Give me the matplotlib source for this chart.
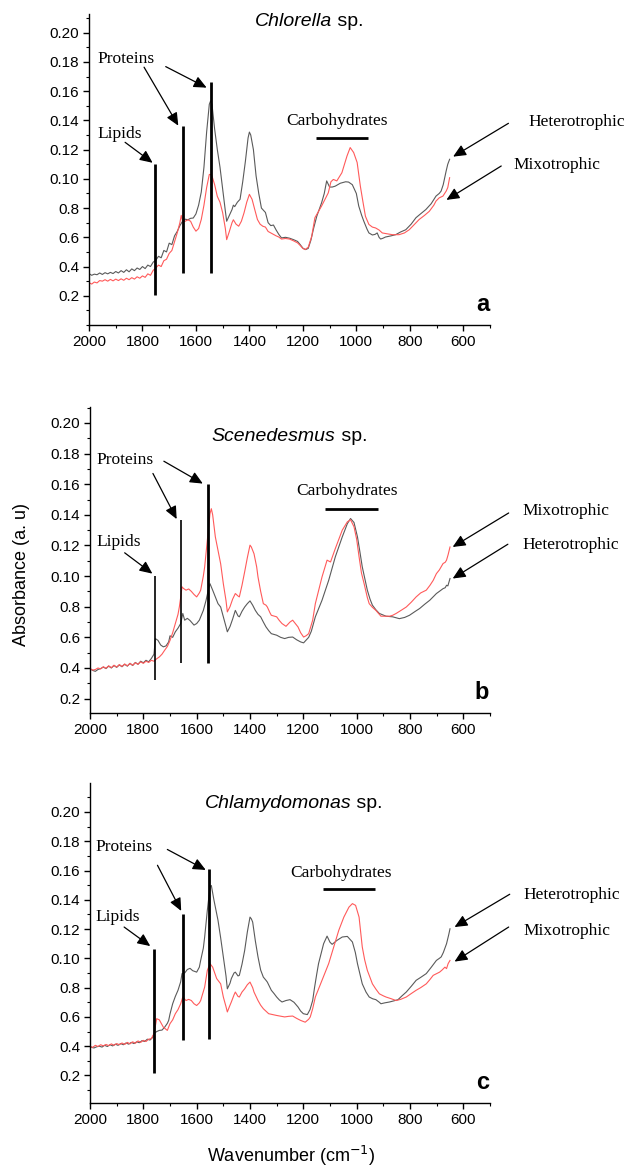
import matplotlib
matplotlib.use("Agg")
import matplotlib.pyplot as plt
from matplotlib.ticker import MultipleLocator, FixedLocator, FixedFormatter

plt.rcParams['font.family'] = ['Liberation Sans', 'DejaVu Sans']

# ---------------- data (y in label-step units: "0.2"->1 ... "0.20"->10) ----------------
ytick_pos = [1, 2, 3, 4, 5, 6, 7, 8, 9, 10]
ytick_labels = ["0.2", "0.4", "0.6", "0.8", "0.10", "0.12", "0.14", "0.16", "0.18", "0.20"]
xtick_pos = [2000, 1800, 1600, 1400, 1200, 1000, 800, 600]

# Panel a: Chlorella sp.
a_het_x = [2000,1990,1980,1970,1960,1950,1940,1930,1920,1910,1900,1890,1880,1870,1860,1850,1840,1830,1820,1810,
           1800,1790,1780,1770,1760,1750,1740,1730,1720,1710,1700,1690,1680,1670,1660,1650,1640,1630,1620,1610,
           1600,1590,1580,1570,1560,1550,1545,1540,1530,1520,1510,1500,1490,1485,1475,1465,1460,1455,1445,1435,
           1425,1415,1405,1400,1395,1385,1375,1365,1355,1345,1340,1330,1320,1310,1300,1290,1280,1265,1250,1235,
           1220,1210,1200,1190,1180,1170,1160,1148,1130,1120,1111,1100,1090,1079,1060,1040,1029,1015,1000,991,
           980,972,960,953,940,930,922,915,909,900,891,870,853,835,815,795,777,760,740,720,
           702,690,683,675,664,658,651]
a_het_y = [1.76,1.70,1.74,1.72,1.78,1.73,1.79,1.75,1.80,1.76,1.83,1.78,1.86,1.80,1.89,1.82,1.92,1.86,1.95,1.90,
           2.00,1.93,2.05,2.00,2.15,2.22,2.35,2.30,2.55,2.50,2.80,2.75,3.05,3.20,3.40,3.55,3.62,3.60,3.65,3.66,
           3.80,4.10,4.55,5.40,6.60,7.55,7.67,7.55,6.70,6.00,5.40,4.65,3.90,3.55,3.75,3.95,4.10,4.05,4.20,4.30,
           4.90,5.60,6.40,6.60,6.50,6.00,5.10,4.50,4.00,3.90,3.85,3.50,3.40,3.42,3.25,3.10,2.98,3.00,2.97,2.92,
           2.86,2.75,2.63,2.58,2.62,2.90,3.30,3.72,4.18,4.50,4.93,4.72,4.72,4.75,4.85,4.90,4.89,4.80,4.50,4.07,
           3.75,3.55,3.28,3.15,3.08,3.10,3.15,3.00,2.94,2.97,3.01,3.05,3.09,3.18,3.26,3.45,3.67,3.80,3.95,4.15,
           4.41,4.50,4.58,4.80,5.27,5.50,5.67]
a_mix_x = [2000,1990,1980,1970,1960,1950,1940,1930,1920,1910,1900,1890,1880,1870,1860,1850,1840,1830,1820,1810,
           1800,1790,1780,1770,1760,1750,1740,1730,1720,1710,1700,1690,1680,1670,1660,1655,1650,1640,1630,1620,
           1610,1600,1590,1580,1570,1560,1550,1545,1540,1530,1520,1510,1500,1490,1485,1475,1465,1460,1450,1440,
           1430,1420,1410,1400,1390,1380,1370,1360,1350,1340,1330,1320,1300,1290,1280,1265,1250,1235,1220,1210,
           1200,1192,1180,1167,1155,1130,1105,1095,1086,1073,1054,1035,1023,1010,997,985,975,966,953,940,
           928,915,903,885,865,840,820,802,785,765,745,727,710,702,690,676,664,658,651]
a_mix_y = [1.45,1.40,1.47,1.44,1.52,1.50,1.55,1.50,1.56,1.51,1.57,1.52,1.58,1.53,1.60,1.55,1.62,1.57,1.65,1.60,
           1.68,1.63,1.75,1.70,1.87,1.95,2.05,2.00,2.20,2.25,2.45,2.55,2.85,3.15,3.50,3.75,3.55,3.55,3.60,3.55,
           3.35,3.21,3.30,3.61,4.10,4.70,5.15,5.15,5.10,4.80,4.40,4.20,3.84,3.30,2.92,3.20,3.50,3.60,3.45,3.38,
           3.55,3.84,4.20,4.47,4.30,3.95,3.61,3.45,3.38,3.35,3.20,3.15,3.05,3.01,2.94,2.96,2.94,2.88,2.81,2.72,
           2.62,2.58,2.66,3.03,3.67,4.07,4.52,4.90,4.98,4.93,5.21,5.78,6.07,5.90,5.56,4.75,4.20,3.72,3.44,3.35,
           3.32,3.25,3.15,3.12,3.09,3.09,3.15,3.26,3.42,3.61,3.75,3.89,4.10,4.24,4.35,4.41,4.58,4.70,5.04]

# Panel b: Scenedesmus sp.
b_het_x = [2000,1990,1980,1970,1960,1950,1940,1930,1920,1910,1900,1890,1880,1870,1860,1850,1840,1830,1820,1810,
           1800,1790,1780,1770,1760,1755,1745,1735,1725,1715,1705,1700,1690,1680,1670,1660,1652,1645,1635,1625,
           1610,1600,1590,1575,1565,1555,1550,1540,1530,1520,1510,1500,1490,1485,1475,1465,1455,1445,1440,1430,
           1420,1410,1400,1390,1380,1370,1360,1350,1340,1330,1320,1300,1285,1270,1255,1240,1225,1210,1199,1180,
           1170,1155,1130,1105,1080,1054,1035,1023,1010,997,988,979,960,950,941,928,915,890,865,840,
           820,802,780,764,745,726,710,701,690,676,668,663,658,650]
b_het_y = [1.98,1.92,1.89,1.95,1.98,2.03,1.98,2.06,2.00,2.08,2.02,2.10,2.04,2.12,2.06,2.15,2.08,2.18,2.12,2.22,
           2.17,2.25,2.20,2.31,2.45,2.96,2.90,2.75,2.69,2.72,2.85,3.05,3.00,3.18,3.30,3.45,3.78,3.56,3.62,3.55,
           3.40,3.45,3.56,3.88,4.20,4.60,4.75,4.54,4.32,4.10,3.99,3.67,3.35,3.18,3.35,3.60,3.88,3.70,3.67,3.85,
           3.99,4.10,4.19,4.05,3.88,3.75,3.67,3.50,3.34,3.22,3.12,3.07,3.00,2.96,3.00,3.01,2.92,2.85,2.82,3.00,
           3.20,3.67,4.21,4.86,5.63,6.28,6.71,6.88,6.75,6.28,5.80,5.30,4.54,4.25,4.05,3.90,3.78,3.69,3.67,3.61,
           3.65,3.72,3.85,3.94,4.08,4.21,4.35,4.43,4.50,4.59,4.62,4.70,4.68,4.92]
b_mix_x = [2000,1990,1980,1970,1960,1950,1940,1930,1920,1910,1900,1890,1880,1870,1860,1850,1840,1830,1820,1810,
           1800,1790,1780,1770,1760,1750,1740,1730,1720,1710,1700,1690,1680,1670,1665,1660,1655,1650,1640,1630,
           1620,1610,1600,1590,1585,1575,1570,1560,1550,1545,1540,1530,1520,1510,1500,1490,1485,1475,1465,1455,
           1445,1440,1430,1420,1410,1400,1395,1385,1375,1370,1360,1350,1340,1335,1325,1320,1300,1290,1280,1265,
           1250,1240,1230,1220,1210,1199,1190,1180,1165,1155,1130,1111,1098,1080,1054,1035,1023,1010,1000,991,
           982,972,960,953,941,928,915,909,890,877,865,852,830,814,795,777,760,739,725,713,
           701,690,676,668,663,657,650]
b_mix_y = [1.98,1.93,1.95,2.00,1.97,2.04,1.99,2.07,2.01,2.09,2.03,2.11,2.05,2.13,2.07,2.15,2.09,2.17,2.12,2.20,
           2.15,2.22,2.18,2.25,2.22,2.30,2.36,2.45,2.58,2.70,2.90,3.15,3.45,3.75,3.99,4.30,4.65,4.60,4.54,4.58,
           4.50,4.40,4.32,4.45,4.54,5.00,5.30,6.17,7.04,7.20,7.00,6.28,5.84,5.40,4.75,4.20,3.83,4.00,4.25,4.43,
           4.35,4.32,4.70,5.14,5.60,6.01,5.95,5.73,5.30,4.97,4.50,4.10,4.05,3.99,3.80,3.72,3.67,3.55,3.45,3.36,
           3.50,3.56,3.45,3.34,3.15,3.01,3.05,3.12,3.56,4.10,4.97,5.52,5.46,5.90,6.50,6.77,6.84,6.61,6.20,5.63,
           5.10,4.75,4.30,4.10,3.98,3.88,3.75,3.69,3.69,3.69,3.72,3.78,3.90,3.99,4.15,4.32,4.45,4.54,4.70,4.86,
           5.08,5.20,5.41,5.45,5.52,5.70,5.95]

# Panel c: Chlamydomonas sp.
c_het_x = [2000,1990,1985,1975,1965,1955,1945,1935,1925,1915,1905,1895,1885,1875,1865,1855,1845,1835,1825,1815,
           1805,1795,1785,1775,1765,1760,1750,1740,1730,1720,1710,1705,1700,1690,1680,1670,1660,1655,1645,1635,
           1625,1615,1600,1590,1585,1575,1570,1560,1550,1545,1535,1520,1510,1500,1490,1485,1475,1470,1460,1455,
           1445,1440,1430,1420,1410,1400,1395,1390,1380,1370,1360,1350,1340,1335,1320,1310,1300,1290,1280,1265,
           1250,1235,1220,1210,1200,1185,1175,1165,1158,1150,1143,1124,1111,1100,1092,1073,1054,1035,1016,1005,
           997,979,965,953,940,928,915,909,895,877,860,845,830,814,795,777,760,739,720,701,
           690,683,675,663,655,650]
c_het_y = [1.99,1.95,1.94,1.98,2.00,1.97,2.03,1.99,2.05,2.01,2.07,2.03,2.09,2.05,2.11,2.07,2.13,2.09,2.15,2.12,
           2.19,2.16,2.24,2.21,2.30,2.43,2.50,2.54,2.55,2.65,2.78,2.88,3.10,3.45,3.70,3.91,4.20,4.48,4.50,4.62,
           4.66,4.58,4.53,4.70,4.93,5.35,5.73,6.64,7.44,7.49,6.98,6.30,5.70,5.05,4.40,3.96,4.15,4.31,4.50,4.53,
           4.40,4.42,4.80,5.27,5.90,6.41,6.35,6.24,5.60,5.05,4.60,4.36,4.25,4.19,3.91,3.80,3.68,3.58,3.51,3.56,
           3.59,3.50,3.34,3.20,3.11,3.08,3.25,3.56,4.00,4.45,4.82,5.50,5.76,5.55,5.48,5.62,5.73,5.75,5.56,5.20,
           4.82,4.13,3.85,3.68,3.62,3.59,3.50,3.45,3.48,3.51,3.55,3.59,3.72,3.85,4.05,4.25,4.35,4.48,4.70,4.93,
           5.00,5.05,5.20,5.50,5.80,6.01]
c_mix_x = [2000,1990,1980,1970,1960,1950,1940,1930,1920,1910,1900,1890,1880,1870,1860,1850,1840,1830,1820,1810,
           1800,1790,1780,1770,1760,1750,1740,1725,1710,1700,1690,1680,1670,1660,1652,1640,1630,1620,1610,1600,
           1590,1585,1570,1560,1550,1540,1525,1510,1500,1490,1485,1475,1470,1460,1455,1445,1440,1430,1420,1410,
           1400,1390,1385,1370,1360,1350,1330,1300,1270,1255,1240,1225,1210,1193,1180,1174,1165,1155,1130,1105,
           1086,1067,1048,1029,1016,1004,991,985,979,970,960,950,941,928,915,900,890,870,852,835,
           814,795,777,760,739,725,713,700,689,680,669,663,657,650]
c_mix_y = [1.99,1.96,2.03,1.99,2.05,2.01,2.06,2.02,2.08,2.03,2.09,2.05,2.11,2.06,2.13,2.08,2.15,2.10,2.18,2.13,
           2.20,2.16,2.24,2.26,2.43,2.94,2.90,2.65,2.54,2.77,2.90,3.11,3.25,3.45,3.68,3.56,3.60,3.56,3.45,3.39,
           3.48,3.56,4.02,4.59,4.82,4.70,4.31,4.13,3.68,3.35,3.17,3.40,3.51,3.75,3.85,3.70,3.68,3.85,3.96,4.10,
           4.19,4.00,3.85,3.56,3.40,3.28,3.11,3.05,3.00,3.02,3.03,2.95,2.88,2.82,2.92,3.00,3.28,3.68,4.25,4.82,
           5.39,5.96,6.41,6.75,6.87,6.81,6.41,5.90,5.39,4.95,4.59,4.35,4.13,3.95,3.79,3.72,3.68,3.62,3.56,3.60,
           3.68,3.80,3.91,4.00,4.13,4.28,4.42,4.48,4.53,4.60,4.70,4.65,4.82,4.93]

# ---------------- layout / styles ----------------
HET_COLOR = '#5a5a5a'
MIX_COLOR = '#ff5a5a'
SERIF = ['Liberation Serif', 'DejaVu Serif']

panels = [
    dict(rect=[89/630, (1168-325)/1168, 401/630, 311/1168], ylim=(0.0, 10.64),
         het=(a_het_x, a_het_y), mix=(a_mix_x, a_mix_y),
         title=("Chlorella", (1090, 10.38)), letter="a",
         bars=[(1753, 1.03, 5.5, 2.0), (1649, 1.78, 6.8, 2.0), (1545, 1.78, 8.3, 2.0)],
         lip_text=(1970, 6.55), lip_arrow=((1865, 6.25), (1762, 5.55)),
         pro_text=(1970, 9.1), pro_arrows=[((1794, 8.82), (1666, 6.82)), ((1713, 8.84), (1560, 8.12))],
         carb_text=(1072, 6.98), carb_bar=(1150, 956, 6.41),
         labels=[("Heterotrophic", (357, 6.95), (431, 6.9), (638, 5.76)),
                 ("Mixotrophic", (413, 5.46), (458, 5.44), (663, 4.28))]),
    dict(rect=[90/630, (1168-713)/1168, 400/630, 306/1168], ylim=(0.53, 10.52),
         het=(b_het_x, b_het_y), mix=(b_mix_x, b_mix_y),
         title=("Scenedesmus", (1079, 9.56)), letter="b",
         bars=[(1758, 1.6, 4.99, 1.2), (1658, 2.17, 6.84, 1.2), (1557, 2.17, 8.02, 2.0)],
         lip_text=(1975, 6.12), lip_arrow=((1870, 5.76), (1766, 5.08)),
         pro_text=(1975, 8.8), pro_arrows=[((1764, 8.35), (1675, 6.86)), ((1723, 8.75), (1577, 8.02))],
         carb_text=(1035, 7.78), carb_bar=(1117, 919, 7.2),
         labels=[("Mixotrophic", (379, 7.11), (430, 7.06), (640, 5.95)),
                 ("Heterotrophic", (379, 6.0), (433, 6.04), (640, 4.92))]),
    dict(rect=[90/630, (1168-1103)/1168, 400/630, 320/1168], ylim=(0.06, 10.99),
         het=(c_het_x, c_het_y), mix=(c_mix_x, c_mix_y),
         title=("Chlamydomonas", (1021, 10.28)), letter="c",
         bars=[(1760, 1.08, 5.33, 2.0), (1651, 2.22, 6.5, 2.0), (1552, 2.24, 8.04, 2.0)],
         lip_text=(1978, 6.42), lip_arrow=((1872, 6.07), (1774, 5.42)),
         pro_text=(1978, 8.8), pro_arrows=[((1747, 8.18), (1658, 6.62)), ((1710, 8.72), (1566, 8.02))],
         carb_text=(1060, 7.92), carb_bar=(1127, 931, 7.38),
         labels=[("Heterotrophic", (375, 7.17), (426, 7.19), (633, 6.07)),
                 ("Mixotrophic", (375, 5.94), (430, 6.07), (633, 4.89))]),
]

fig = plt.figure(figsize=(6.3, 11.68), dpi=100)

arrow_kw = dict(arrowstyle='-|>,head_length=0.55,head_width=0.25', color='black', lw=0.9,
                shrinkA=0, shrinkB=0, mutation_scale=14)

for p in panels:
    ax = fig.add_axes(p['rect'])
    ax.plot(p['het'][0], p['het'][1], color=HET_COLOR, lw=0.8)
    ax.plot(p['mix'][0], p['mix'][1], color=MIX_COLOR, lw=0.8)
    ax.set_xlim(2000, 500)
    ax.set_ylim(*p['ylim'])
    for s in ['top', 'right']:
        ax.spines[s].set_visible(False)
    ax.spines['left'].set_linewidth(1.0)
    ax.spines['bottom'].set_linewidth(1.0)
    ax.xaxis.set_major_locator(FixedLocator(xtick_pos))
    ax.xaxis.set_minor_locator(MultipleLocator(100))
    ax.yaxis.set_major_locator(FixedLocator(ytick_pos))
    ax.yaxis.set_major_formatter(FixedFormatter(ytick_labels))
    ax.yaxis.set_minor_locator(MultipleLocator(0.5))
    ax.tick_params(which='major', direction='out', length=4, width=1.0, labelsize=11, pad=3)
    ax.tick_params(which='minor', direction='out', length=2.5, width=0.8)

    # title: italic genus + roman "sp.", joined at the split point
    name, (tx, ty) = p['title']
    ax.text(tx, ty, name, ha='right', va='center', fontsize=14, style='italic')
    ax.text(tx, ty, " sp.", ha='left', va='center', fontsize=14)

    ax.text(0.998, 0.045, p['letter'], transform=ax.transAxes, ha='right', va='baseline',
            fontsize=17, fontweight='bold')

    for (bx, y0, y1, lw) in p['bars']:
        ax.plot([bx, bx], [y0, y1], color='black', lw=lw, solid_capstyle='butt')

    ax.text(p['lip_text'][0], p['lip_text'][1], "Lipids", family=SERIF, fontsize=12.5,
            ha='left', va='center')
    ax.annotate("", xy=p['lip_arrow'][1], xytext=p['lip_arrow'][0], arrowprops=arrow_kw)
    ax.text(p['pro_text'][0], p['pro_text'][1], "Proteins", family=SERIF, fontsize=12.5,
            ha='left', va='center')
    for (st, en) in p['pro_arrows']:
        ax.annotate("", xy=en, xytext=st, arrowprops=arrow_kw)
    ax.text(p['carb_text'][0], p['carb_text'][1], "Carbohydrates", family=SERIF, fontsize=12.5,
            ha='center', va='center')
    cb = p['carb_bar']
    ax.plot([cb[0], cb[1]], [cb[2], cb[2]], color='black', lw=2.0, solid_capstyle='butt')
    for (lab, tpos, st, en) in p['labels']:
        ax.text(tpos[0], tpos[1], lab, family=SERIF, fontsize=12.5, ha='left', va='center',
                clip_on=False)
        ax.annotate("", xy=en, xytext=st, arrowprops=arrow_kw, annotation_clip=False)

fig.text(22/630, (1168-575)/1168, "Absorbance (a. u)", rotation=90, ha='center', va='center',
         fontsize=13)
fig.text(291/630, (1168-1156)/1168, "Wavenumber (cm$^{-1}$)", ha='center', va='center',
         fontsize=13)

fig.savefig("out.png", dpi=100)
